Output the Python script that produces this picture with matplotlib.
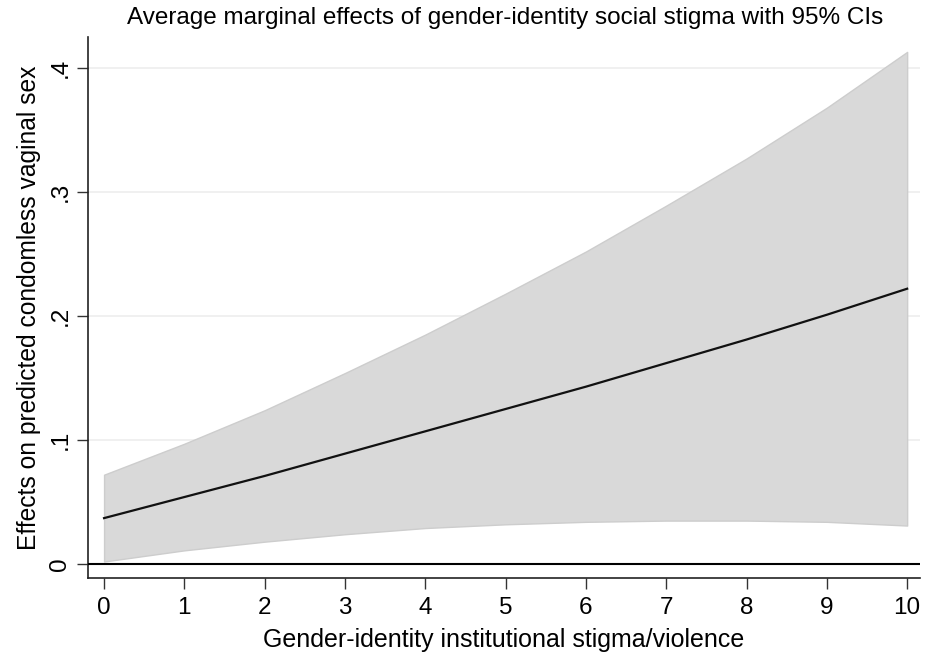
import matplotlib
matplotlib.use("Agg")
import matplotlib.pyplot as plt

x_vals = [0, 1, 2, 3, 4, 5, 6, 7, 8, 9, 10]
effect = [0.037, 0.054, 0.071, 0.089, 0.107, 0.125, 0.143, 0.162, 0.181, 0.201, 0.222]
ci_low = [0.002, 0.011, 0.018, 0.024, 0.029, 0.032, 0.034, 0.035, 0.035, 0.034, 0.031]
ci_high = [0.072, 0.097, 0.124, 0.154, 0.185, 0.218, 0.252, 0.289, 0.327, 0.368, 0.413]
y_ticks = [0, 0.1, 0.2, 0.3, 0.4]
y_labels = ["0", ".1", ".2", ".3", ".4"]

plt.rcParams['font.family'] = ['Liberation Sans', 'DejaVu Sans']

fig = plt.figure(figsize=(9.35, 6.55), dpi=100)
ax = fig.add_axes([88/935, 1-578/655, (920-88)/935, (578-37)/655])

ax.fill_between(x_vals, ci_low, ci_high, facecolor='#d9d9d9', edgecolor='#cdcdcd', linewidth=1.0, zorder=2)
ax.plot(x_vals, effect, color='#111111', linewidth=1.6, zorder=3)
ax.axhline(0, color='black', linewidth=1.5, zorder=4)

ax.set_xlim(-0.2, 10.16)
ax.set_ylim(-0.0113, 0.425)
ax.set_xticks(x_vals)
ax.set_xticklabels([str(v) for v in x_vals], fontsize=17.5)
ax.set_yticks(y_ticks)
ax.set_yticklabels(y_labels, fontsize=17.5, rotation=90, va='center')
ax.tick_params(axis='both', direction='out', length=8, width=1.0, color='#333333')
ax.tick_params(axis='x', pad=6)
ax.tick_params(axis='y', pad=4)
for t in y_ticks[1:]:
    ax.axhline(t, color='#eeeeee', linewidth=1.2, zorder=1)

for s in ['top', 'right']:
    ax.spines[s].set_visible(False)
for s in ['left', 'bottom']:
    ax.spines[s].set_color('#222222')
    ax.spines[s].set_linewidth(1.2)

ax.set_xlabel("Gender-identity institutional stigma/violence", fontsize=18, labelpad=6)
ax.set_ylabel("Effects on predicted condomless vaginal sex", fontsize=17.7, labelpad=6)
fig.text(505/935, 1-18/655, "Average marginal effects of gender-identity social stigma with 95% CIs",
         ha='center', va='center', fontsize=17.5)

fig.savefig("out.png", dpi=100, facecolor='white')
